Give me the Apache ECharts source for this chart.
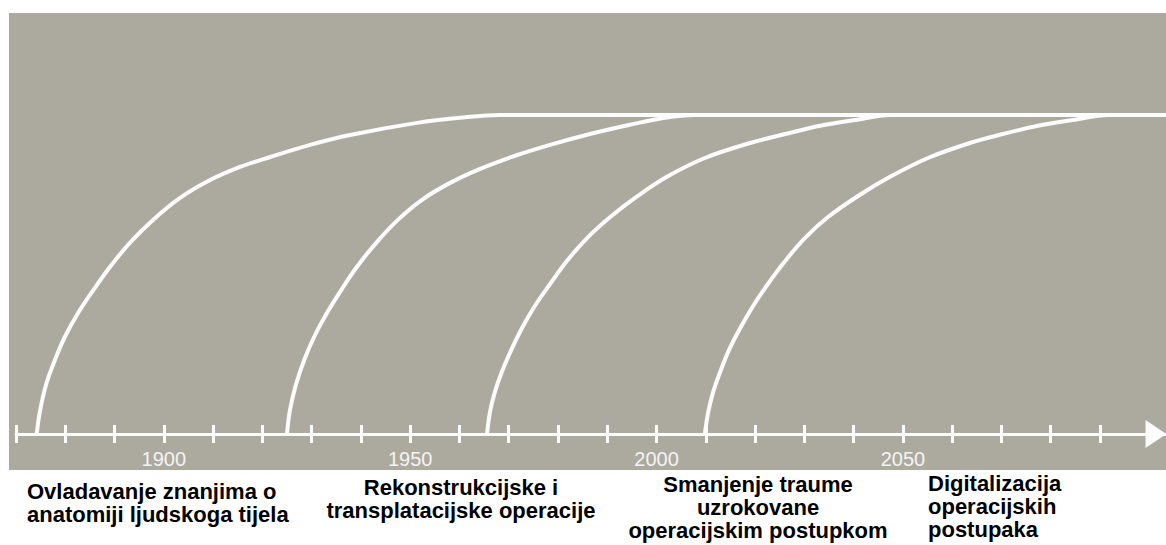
<!DOCTYPE html>
<html>
<head>
<meta charset="utf-8">
<title>Razvoj kirurgije</title>
<script src="https://cdn.jsdelivr.net/npm/echarts@6/dist/echarts.min.js"></script>
<style>
  html, body { margin: 0; padding: 0; background: #fff; }
  #chart { width: 1166px; height: 545px; }
</style>
</head>
<body>
<div id="chart"></div>
<script>
// timeline ticks (every 10 years) and labelled years
var tickYears = [1870, 1880, 1890, 1900, 1910, 1920, 1930, 1940, 1950, 1960, 1970,
  1980, 1990, 2000, 2010, 2020, 2030, 2040, 2050, 2060, 2070, 2080, 2090];
var labelYears = [1900, 1950, 2000, 2050];
var axisEnd = 2103.4;

// growth curves [year, level]; level 100 = plateau
var curveAnatomy = [
  [1874.2, 0], [1874.9, 7.5], [1876.2, 16.0], [1877.9, 23.2], [1879.9, 30.4],
  [1882.6, 37.9], [1885.7, 45.1], [1889.1, 52.4], [1893.1, 59.9], [1897.8, 67.1],
  [1903.3, 74.0], [1909.4, 79.6], [1915.5, 83.7], [1921.6, 86.8], [1929.7, 90.6],
  [1937.8, 93.7], [1951.4, 97.5], [1960.1, 99.1], [1968.2, 100], [1980, 100],
  [2103.4, 100]
];
var curveTransplant = [
  [1925.0, 0], [1925.6, 7.5], [1926.8, 15.4], [1928.5, 23.2], [1930.5, 30.4],
  [1933.1, 37.9], [1936.0, 45.1], [1939.2, 52.4], [1943.1, 59.9], [1947.5, 67.1],
  [1952.4, 73.4], [1958.1, 78.7], [1964.2, 83.1], [1971.3, 87.2], [1978.4, 90.6],
  [1986.5, 94.0], [1994.6, 96.9], [2001.7, 99.1], [2007.8, 100], [2018, 100],
  [2103.4, 100]
];
var curveTrauma = [
  [1965.6, 0], [1966.2, 6.9], [1967.2, 13.2], [1968.6, 19.4], [1970.5, 26.3],
  [1972.7, 33.2], [1975.3, 40.1], [1978.4, 47.0], [1981.8, 54.2], [1985.9, 61.4],
  [1990.6, 68.0], [1996.2, 74.6], [2002.1, 80.6], [2009.8, 86.5], [2019.0, 91.2],
  [2026.1, 94.0], [2033.2, 96.6], [2040.3, 98.4], [2047.4, 100], [2058, 100],
  [2103.4, 100]
];
var curveDigital = [
  [2009.8, 0], [2010.5, 6.9], [2011.5, 13.2], [2012.9, 19.4], [2014.7, 26.3],
  [2017.0, 33.2], [2019.6, 40.1], [2022.6, 47.0], [2026.1, 54.2], [2030.1, 61.4],
  [2034.8, 68.0], [2040.9, 74.6], [2047.4, 80.6], [2055.1, 86.5], [2063.6, 91.2],
  [2070.3, 94.0], [2077.4, 96.6], [2084.5, 98.4], [2091.6, 100], [2103.4, 100]
];

var eventLabels = [
  'Ovladavanje znanjima o\nanatomiji ljudskoga tijela',
  'Rekonstrukcijske i\ntransplatacijske operacije',
  'Smanjenje traume\nuzrokovane\noperacijskim postupkom',
  'Digitalizacija\noperacijskih\npostupaka'
];

var chart = echarts.init(document.getElementById('chart'), null, { renderer: 'svg' });

var white = '#fcfcfc';
var labelFont = 'bold 22px "Liberation Sans", Arial, sans-serif';

function curveSeries(name, data) {
  return {
    name: name,
    type: 'line',
    data: data,
    showSymbol: false,
    symbol: 'none',
    smooth: 0.35,
    clip: false,
    lineStyle: { color: white, width: 4 },
    z: 5
  };
}

var option = {
  backgroundColor: '#ffffff',
  animation: false,
  grid: { left: 16, right: 0, top: 83, bottom: 111 },
  graphic: [
    {
      type: 'rect',
      z: -10,
      silent: true,
      shape: { x: 9, y: 13, width: 1157, height: 457 },
      style: { fill: '#aca99f' }
    },
    {
      type: 'text', left: 27, top: 480, silent: true,
      style: { text: eventLabels[0], font: labelFont, fill: '#000', lineHeight: 23, textAlign: 'left', align: 'left' }
    },
    {
      type: 'text', x: 461, y: 476, silent: true,
      style: { text: eventLabels[1], font: labelFont, fill: '#000', lineHeight: 23, textAlign: 'center', align: 'center' }
    },
    {
      type: 'text', x: 758, y: 473, silent: true,
      style: { text: eventLabels[2], font: labelFont, fill: '#000', lineHeight: 23, textAlign: 'center', align: 'center' }
    },
    {
      type: 'text', left: 928, top: 472, silent: true,
      style: { text: eventLabels[3], font: labelFont, fill: '#000', lineHeight: 23, textAlign: 'left', align: 'left' }
    }
  ],
  xAxis: [
    {
      type: 'value',
      min: 1870,
      max: axisEnd,
      interval: 10,
      position: 'bottom',
      splitLine: { show: false },
      axisLine: {
        show: true,
        symbol: ['none', 'triangle'],
        symbolSize: [28, 21],
        symbolOffset: [0, -10],
        lineStyle: { color: white, width: 3 }
      },
      axisTick: {
        show: true,
        length: 9,
        customValues: tickYears,
        lineStyle: { color: white, width: 3 }
      },
      axisLabel: {
        show: true,
        customValues: labelYears,
        margin: 15,
        color: '#f4f4f4',
        fontSize: 20,
        fontFamily: '"Liberation Sans", Arial, sans-serif',
        formatter: function (v) { return String(v); }
      }
    },
    {
      type: 'value',
      min: 1870,
      max: axisEnd,
      interval: 10,
      position: 'bottom',
      splitLine: { show: false },
      axisLine: { show: false },
      axisTick: {
        show: true,
        inside: true,
        length: 9,
        customValues: tickYears,
        lineStyle: { color: white, width: 3 }
      },
      axisLabel: { show: false }
    }
  ],
  yAxis: {
    type: 'value',
    min: 0,
    max: 110,
    show: false,
    splitLine: { show: false }
  },
  series: [
    curveSeries('Anatomija', curveAnatomy),
    curveSeries('Transplantacija', curveTransplant),
    curveSeries('Trauma', curveTrauma),
    curveSeries('Digitalizacija', curveDigital)
  ]
};

chart.setOption(option);
</script>
</body>
</html>
